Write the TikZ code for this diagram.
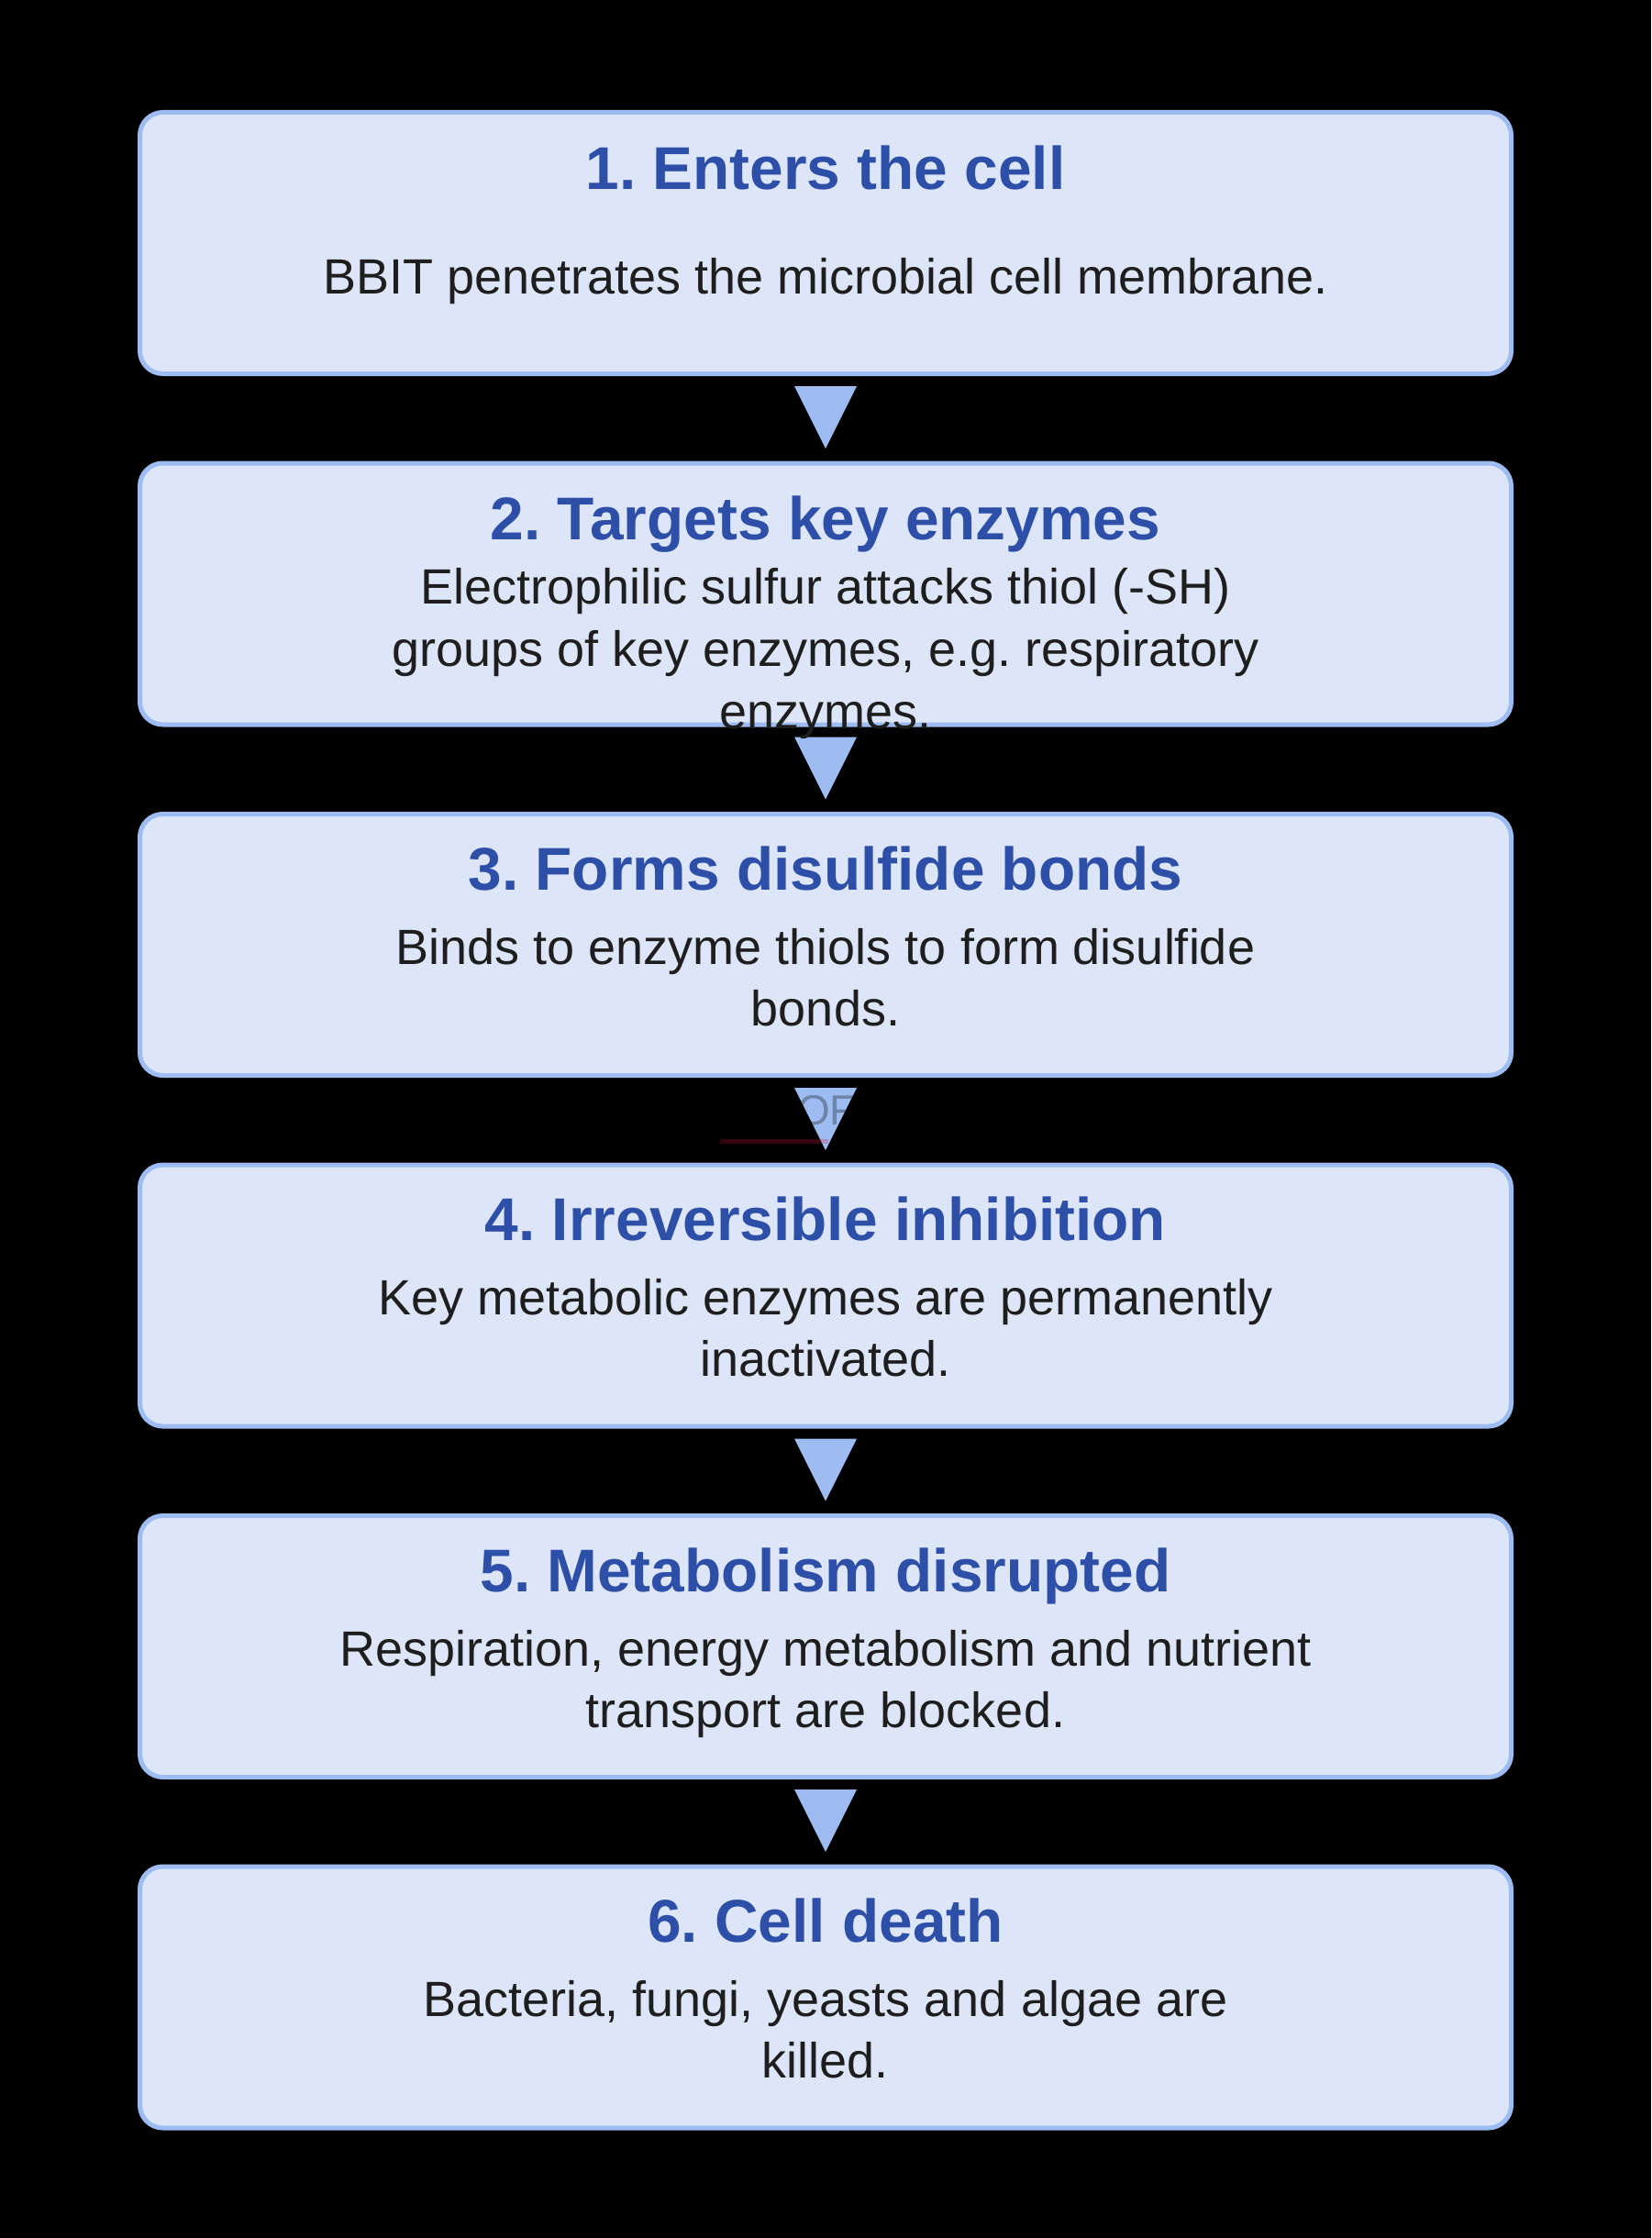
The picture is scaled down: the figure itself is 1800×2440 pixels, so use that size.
\documentclass[tikz,border=0pt]{standalone}
\usepackage{fontspec}
\setmainfont{Liberation Sans}
\frenchspacing
\definecolor{boxfill}{HTML}{DDE6F8}
\definecolor{boxline}{HTML}{9DBDF2}
\definecolor{titleblue}{HTML}{2E4FA8}
\definecolor{bodytext}{HTML}{1E1E1E}
\definecolor{glitchred}{HTML}{DC143C}
\tikzset{
  stepbox/.style={draw=boxline, fill=boxfill, line width=2.5pt, rounded corners=12.5pt,
    minimum width=747.5pt, minimum height=142.5pt, inner sep=0pt, outer sep=1.25pt},
  ttl/.style={anchor=base, text=titleblue, font=\fontsize{32.9}{40}\selectfont\bfseries, inner sep=0pt},
  bdy/.style={anchor=base, text=bodytext, font=\fontsize{27}{33}\selectfont, inner sep=0pt},
  tri/.style={fill=boxline}
}
\begin{document}
\begin{tikzpicture}[x=0.5pt,y=-0.5pt]
\fill[black] (0,0) rectangle (1800,2440);
\useasboundingbox (0,0) rectangle (1800,2440);

\node[stepbox] (b1) at (900,265) {};
\node[stepbox] (b2) at (900,647.5) {};
\node[stepbox] (b3) at (900,1030) {};
\node[stepbox] (b4) at (900,1412.5) {};
\node[stepbox] (b5) at (900,1795) {};
\node[stepbox] (b6) at (900,2177.5) {};

% arrows between steps
\fill[tri] (b1.south) ++(-34,11) -- ++(68,0) -- ++(-34,68) -- cycle;
\fill[tri] (b2.south) ++(-34,11) -- ++(68,0) -- ++(-34,68) -- cycle;
\fill[tri] (b3.south) ++(-34,11) -- ++(68,0) -- ++(-34,68) -- cycle;
\fill[tri] (b4.south) ++(-34,11) -- ++(68,0) -- ++(-34,68) -- cycle;
\fill[tri] (b5.south) ++(-34,11) -- ++(68,0) -- ++(-34,68) -- cycle;

% faint artifacts between steps 3 and 4
\coordinate (g1) at (785,1244);
\coordinate (g2) at (903,1244);
\draw[glitchred, opacity=0.25, line width=2.5pt] (g1) -- (g2);
\node[anchor=base, inner sep=0pt, text=black, text opacity=0.3, font=\fontsize{23}{28}\selectfont] (gof) at (901,1226) {OF};

% texts
\node[ttl] (t1) at (900,207) {1. Enters the cell};
\node[bdy] (d1) at (900,321) {BBIT penetrates the microbial cell membrane.};

\node[ttl] (t2) at (900,588) {2. Targets key enzymes};
\node[bdy] (d2a) at (900,658) {Electrophilic sulfur attacks thiol (-SH)};
\node[bdy] (d2b) at (900,726) {groups of key enzymes, e.g. respiratory};
\node[bdy] (d2c) at (900,794) {enzymes.};

\node[ttl] (t3) at (900,970) {3. Forms disulfide bonds};
\node[bdy] (d3a) at (900,1051) {Binds to enzyme thiols to form disulfide};
\node[bdy] (d3b) at (900,1118) {bonds.};

\node[ttl] (t4) at (900,1352.5) {4. Irreversible inhibition};
\node[bdy] (d4a) at (900,1433.5) {Key metabolic enzymes are permanently};
\node[bdy] (d4b) at (900,1500.5) {inactivated.};

\node[ttl] (t5) at (900,1735) {5. Metabolism disrupted};
\node[bdy] (d5a) at (900,1816) {Respiration, energy metabolism and nutrient};
\node[bdy] (d5b) at (900,1883) {transport are blocked.};

\node[ttl] (t6) at (900,2117.5) {6. Cell death};
\node[bdy] (d6a) at (900,2198.5) {Bacteria, fungi, yeasts and algae are};
\node[bdy] (d6b) at (900,2265.5) {killed.};
\end{tikzpicture}
\end{document}
